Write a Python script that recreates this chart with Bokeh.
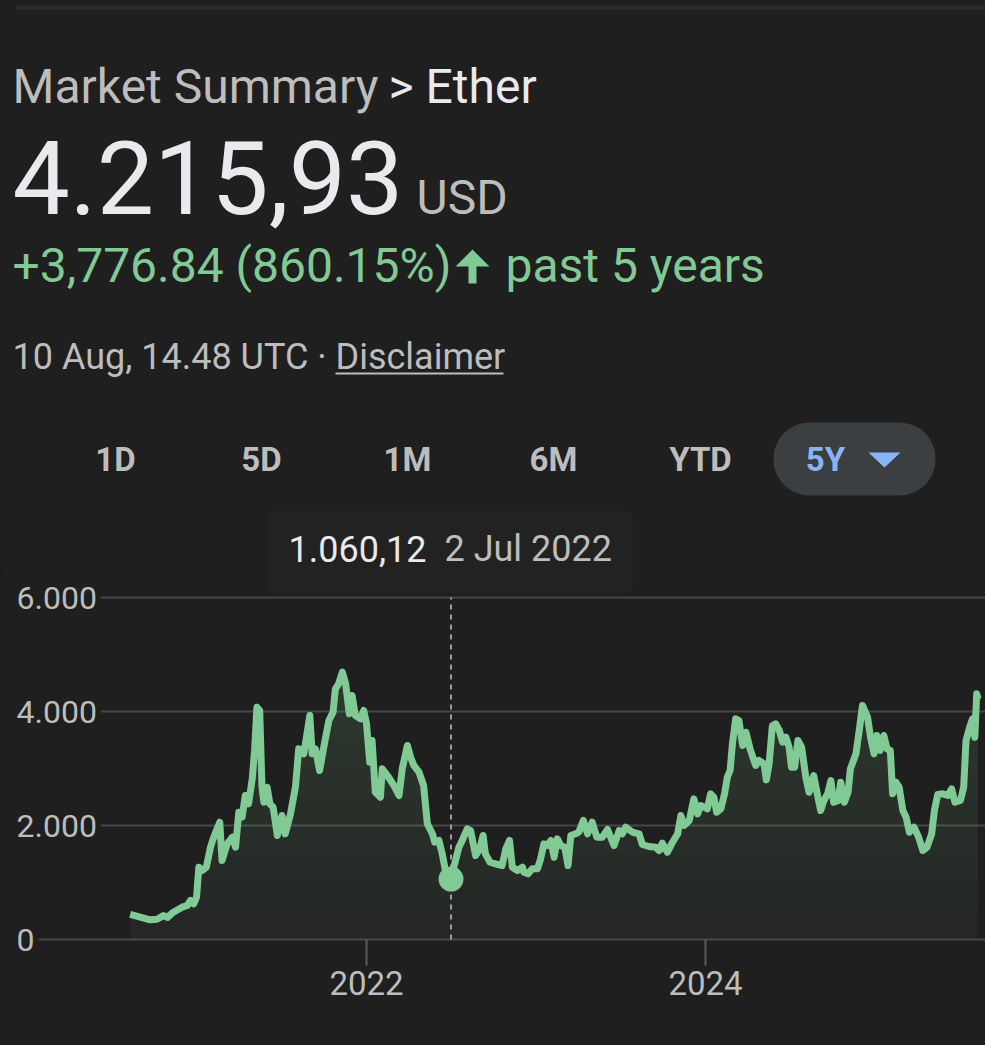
import numpy as np
import pandas as pd
from bokeh.plotting import figure
from bokeh.models import (Label, BoxAnnotation, FixedTicker, Range1d,
                          ColumnDataSource, GlobalInlineStyleSheet)
from bokeh.embed import file_html
from bokeh.resources import INLINE

# ---------------- data ----------------
dates = [
    "2020-08-10", "2020-09-01", "2020-09-22", "2020-10-07", "2020-10-21", "2020-10-29",
    "2020-11-11", "2020-11-30", "2020-12-11", "2020-12-18", "2020-12-25", "2020-12-31",
    "2021-01-05", "2021-01-12", "2021-01-21", "2021-01-30", "2021-02-06", "2021-02-19",
    "2021-02-24", "2021-03-07", "2021-03-18", "2021-03-25", "2021-04-01", "2021-04-08",
    "2021-04-15", "2021-04-22", "2021-04-30", "2021-05-05", "2021-05-10", "2021-05-16",
    "2021-05-21", "2021-05-25", "2021-06-01", "2021-06-07", "2021-06-14", "2021-06-23",
    "2021-07-03", "2021-07-10", "2021-07-21", "2021-08-01", "2021-08-08", "2021-08-19",
    "2021-09-01", "2021-09-06", "2021-09-13", "2021-09-22", "2021-10-01", "2021-10-12",
    "2021-10-21", "2021-10-26", "2021-11-02", "2021-11-10", "2021-11-17", "2021-11-25",
    "2021-12-01", "2021-12-08", "2021-12-19", "2021-12-26", "2022-01-01", "2022-01-08",
    "2022-01-13", "2022-01-20", "2022-01-31", "2022-02-04", "2022-02-15", "2022-03-01",
    "2022-03-12", "2022-03-19", "2022-03-30", "2022-04-06", "2022-04-13", "2022-04-24",
    "2022-05-04", "2022-05-12", "2022-05-23", "2022-05-28", "2022-06-06", "2022-06-13",
    "2022-06-20", "2022-07-02", "2022-07-08", "2022-07-19", "2022-07-26", "2022-08-06",
    "2022-08-13", "2022-08-24", "2022-09-02", "2022-09-09", "2022-09-14", "2022-09-24",
    "2022-10-06", "2022-10-20", "2022-10-28", "2022-11-05", "2022-11-11", "2022-11-22",
    "2022-12-03", "2022-12-06", "2022-12-15", "2022-12-24", "2023-01-04", "2023-01-11",
    "2023-01-18", "2023-01-25", "2023-02-02", "2023-02-09", "2023-02-16", "2023-02-23",
    "2023-03-04", "2023-03-11", "2023-03-17", "2023-03-27", "2023-04-03", "2023-04-13",
    "2023-04-22", "2023-05-02", "2023-05-12", "2023-05-24", "2023-06-04", "2023-06-18",
    "2023-06-29", "2023-07-06", "2023-07-13", "2023-07-28", "2023-08-11", "2023-08-18",
    "2023-09-01", "2023-09-16", "2023-09-23", "2023-09-30", "2023-10-11", "2023-10-22",
    "2023-11-02", "2023-11-09", "2023-11-16", "2023-11-27", "2023-12-07", "2023-12-15",
    "2023-12-22", "2024-01-05", "2024-01-12", "2024-01-19", "2024-01-25", "2024-02-03",
    "2024-02-11", "2024-02-17", "2024-02-23", "2024-02-28", "2024-03-06", "2024-03-13",
    "2024-03-21", "2024-03-28", "2024-04-06", "2024-04-18", "2024-04-25", "2024-05-06",
    "2024-05-11", "2024-05-17", "2024-05-24", "2024-05-31", "2024-06-08", "2024-06-15",
    "2024-06-22", "2024-06-29", "2024-07-04", "2024-07-11", "2024-07-18", "2024-07-26",
    "2024-08-04", "2024-08-11", "2024-08-21", "2024-08-28", "2024-09-05", "2024-09-12",
    "2024-09-20", "2024-09-27", "2024-10-03", "2024-10-13", "2024-10-18", "2024-10-26",
    "2024-11-03", "2024-11-08", "2024-11-20", "2024-11-27", "2024-12-04", "2024-12-15",
    "2024-12-22", "2024-12-29", "2025-01-04", "2025-01-11", "2025-01-19", "2025-01-26",
    "2025-02-02", "2025-02-07", "2025-02-14", "2025-02-21", "2025-03-01", "2025-03-08",
    "2025-03-15", "2025-03-25", "2025-04-04", "2025-04-13", "2025-04-22", "2025-05-02",
    "2025-05-08", "2025-05-15", "2025-05-26", "2025-06-06", "2025-06-14", "2025-06-21",
    "2025-07-03", "2025-07-10", "2025-07-15", "2025-07-24", "2025-07-29", "2025-08-03",
    "2025-08-07", "2025-08-10",
]
prices = [
    439, 391, 345, 356, 421, 386,
    479, 567, 596, 684, 626, 742,
    1268, 1210, 1268, 1619, 1795, 2058,
    1386, 1679, 1795, 1619, 2233, 2146,
    2526, 2380, 2819, 3316, 4076, 4018,
    2672, 2409, 2672, 2380, 2321, 1825,
    2175, 1854, 2190, 2672, 3345, 3258,
    3930, 3258, 3345, 2965, 3374, 3842,
    3988, 4398, 4486, 4690, 4486, 3959,
    4281, 3930, 3872, 4018, 3784, 3111,
    3491, 2584, 2497, 2994, 2877, 2702,
    2526, 2994, 3404, 3198, 3053, 2936,
    2702, 2029, 1854, 1707, 1737, 1503,
    1210, 1060.12, 1268, 1619, 1737, 1942,
    1912, 1474, 1591, 1825, 1503, 1356,
    1328, 1298, 1591, 1737, 1268, 1210,
    1268, 1181, 1152, 1240, 1240, 1415,
    1679, 1649, 1737, 1444, 1766, 1649,
    1619, 1298, 1825, 1854, 1882, 2088,
    1854, 2058, 1795, 1795, 1930, 1649,
    1912, 1854, 1970, 1882, 1854, 1667,
    1632, 1619, 1561, 1690, 1532, 1707,
    1854, 2175, 2000, 2088, 2468, 2205,
    2351, 2292, 2556, 2497, 2233, 2292,
    2556, 2848, 2965, 3433, 3872, 3842,
    3404, 3637, 3345, 3053, 3140, 3082,
    2800, 3082, 3754, 3784, 3667, 3462,
    3549, 3374, 3023, 3023, 3491, 3374,
    2848, 2584, 2877, 2584, 2263, 2439,
    2556, 2789, 2409, 2439, 2760, 2409,
    2584, 2994, 3258, 3667, 4105, 3900,
    3521, 3258, 3579, 3316, 3579, 3345,
    3316, 2556, 2760, 2672, 2263, 2146,
    1882, 1970, 1795, 1561, 1619, 1854,
    2263, 2544, 2556, 2526, 2643, 2409,
    2439, 2672, 3491, 3754, 3872, 3549,
    4310, 4215.93,
]
y_ticks = [0, 2000, 4000, 6000]
y_tick_labels = ["0", "2.000", "4.000", "6.000"]
x_tick_dates = ["2022-01-01", "2024-01-01"]
x_tick_labels = ["2022", "2024"]
range_buttons = ["1D", "5D", "1M", "6M", "YTD", "5Y"]
selected_range = "5Y"
sel_date = "2022-07-02"
sel_price = 1060.12
sel_price_text = "1.060,12"
sel_date_text = "2 Jul 2022"
title_left = "Market Summary"
title_right = "> Ether"
last_price_text = "4.215,93"
currency = "USD"
change_text = "+3,776.84 (860.15%)"
period_text = "past 5 years"
stamp_text = "10 Aug, 14.48 UTC ·"
disclaimer_text = "Disclaimer"

# ---------------- styling / layout ----------------
BG = "#1f1f1f"
GREEN = "#81c995"
WHITE = "#e8eaed"
GRAY = "#bdbdbd"
BLUE = "#8ab4f8"
FONT = "Roboto"

W, H = 985, 1045
PX_2022, PX_2024 = 366, 705   # page x of the two year ticks
PY_0, PY_2000 = 939, 825      # page y of values 0 and 2000

t = pd.to_datetime(dates)
x_ticks = pd.to_datetime(x_tick_dates)
ms = lambda ts: ts.value / 1e6
ms_per_px = (ms(x_ticks[1]) - ms(x_ticks[0])) / (PX_2024 - PX_2022)
x_start = ms(x_ticks[0]) - PX_2022 * ms_per_px
x_end = ms(x_ticks[0]) + (W - PX_2022) * ms_per_px
v_per_px = (y_ticks[1] - y_ticks[0]) / (PY_0 - PY_2000)
y_start = -(H - PY_0) * v_per_px
y_end = PY_0 * v_per_px

p = figure(width=W, height=H, output_backend="svg", toolbar_location=None,
           x_axis_type="datetime", x_axis_location=None, y_axis_location=None,
           x_range=Range1d(x_start, x_end), y_range=Range1d(y_start, y_end),
           min_border=0, background_fill_color=BG, border_fill_color=BG,
           outline_line_color=None)
p.stylesheets = [GlobalInlineStyleSheet(css="html, body { background-color: #1f1f1f; }")]
# page-pixel ranges for the decorative header elements
p.extra_x_ranges = {"px": Range1d(0, W)}
p.extra_y_ranges = {"py": Range1d(H, 0)}

# grid
p.xgrid.visible = False
p.ygrid.ticker = FixedTicker(ticks=y_ticks)
p.ygrid.grid_line_color = "#474747"
p.ygrid.grid_line_width = 2
# left margin mask so gridlines start after the tick labels
p.add_layout(BoxAnnotation(left=0, right=14, top=570, bottom=960,
                           x_range_name="px", y_range_name="py", level="underlay",
                           fill_color=BG, fill_alpha=1, line_color=None))

# area fill (vertical gradient emulated by stacked translucent bands)
v = np.array(prices, dtype=float)
src = ColumnDataSource(dict(t=t, v=v, zero=np.zeros_like(v)))
p.varea(x="t", y1="zero", y2="v", source=src, fill_color=GREEN, fill_alpha=0.05)
for thr in range(500, 6000, 500):
    p.varea(x=t, y1=np.minimum(v, thr), y2=v, fill_color=GREEN, fill_alpha=0.015)

# x ticks (below the zero line) and year labels
tick_len = 26 * v_per_px
p.segment(x0=x_ticks, y0=[y_ticks[0]] * len(x_ticks), x1=x_ticks,
          y1=[y_ticks[0] - tick_len] * len(x_ticks),
          line_color="#5c5c5c", line_width=2)
for d, lab in zip(x_ticks, x_tick_labels):
    p.add_layout(Label(x=d, y=982, y_range_name="py", text=lab, text_font=FONT,
                       text_font_size="33px", text_color=GRAY,
                       text_align="center", text_baseline="middle"))

# hover cursor line and marker
sel_t = pd.to_datetime(sel_date)
p.segment(x0=[sel_t], y0=[y_ticks[0]], x1=[sel_t], y1=[y_ticks[-1]],
          line_color="#9e9e9e", line_width=2, line_dash="5 5")
p.line(x="t", y="v", source=src, line_color=GREEN, line_width=7, line_join="round")
p.scatter(x=[sel_t], y=[sel_price], size=25, fill_color=GREEN, line_color=None)

# y tick labels (masking the start of the gridlines)
for val, lab in zip(y_ticks, y_tick_labels):
    p.add_layout(Label(x=12, y=val, x_range_name="px", text=lab, text_font=FONT,
                       text_font_size="32px", text_color=GRAY, text_baseline="middle",
                       text_align="left", background_fill_color=BG, padding=4))

def txt(x, y, s, size, color, style="normal", align="left"):
    p.add_layout(Label(x=x, y=y, x_range_name="px", y_range_name="py", text=s,
                       text_font=FONT, text_font_size=size, text_color=color,
                       text_font_style=style, text_align=align,
                       text_baseline="middle"))

# top divider
p.segment(x0=[15], y0=[7], x1=[W], y1=[7], x_range_name="px", y_range_name="py",
          line_color="#2b2b2b", line_width=4)

# header
txt(12, 86, title_left, "48px", GRAY)
txt(388, 86, title_right, "48px", WHITE)
txt(12, 177, last_price_text, "102px", WHITE)
txt(416, 197, currency, "48px", GRAY)
txt(12, 265, change_text, "48px", GREEN)
p.patch(x=[472, 489, 476, 476, 468, 468, 455], y=[249, 266, 266, 283, 283, 266, 266],
        x_range_name="px", y_range_name="py", fill_color=GREEN, line_color=None)
txt(505, 265, period_text, "48px", GREEN)
txt(12, 356, stamp_text, "36px", GRAY)
txt(335, 356, disclaimer_text, "36px", GRAY)
p.segment(x0=[335], y0=[373], x1=[503], y1=[373], x_range_name="px", y_range_name="py",
          line_color=GRAY, line_width=2)

# range selector
p.add_layout(BoxAnnotation(left=773, right=935, top=422, bottom=495,
                           x_range_name="px", y_range_name="py", level="underlay",
                           fill_color="#3c3f42", fill_alpha=1, line_color=None,
                           border_radius=36))
btn_centers = [115, 261, 407, 553, 700, 825]
for lab, cx in zip(range_buttons, btn_centers):
    sel = lab == selected_range
    txt(cx, 459, lab, "33px", BLUE if sel else GRAY, style="bold", align="center")
p.patch(x=[868, 900, 884], y=[452, 452, 467], x_range_name="px", y_range_name="py",
        fill_color=BLUE, line_color=None)

# tooltip
p.add_layout(BoxAnnotation(left=265, right=633, top=510, bottom=592,
                           x_range_name="px", y_range_name="py", level="underlay",
                           fill_color="#222222", fill_alpha=1, line_color="#262626",
                           border_radius=8))
txt(288, 548, sel_price_text, "36px", WHITE)
txt(444, 548, sel_date_text, "36px", GRAY)

open("out.html", "w").write(file_html(p, INLINE))
